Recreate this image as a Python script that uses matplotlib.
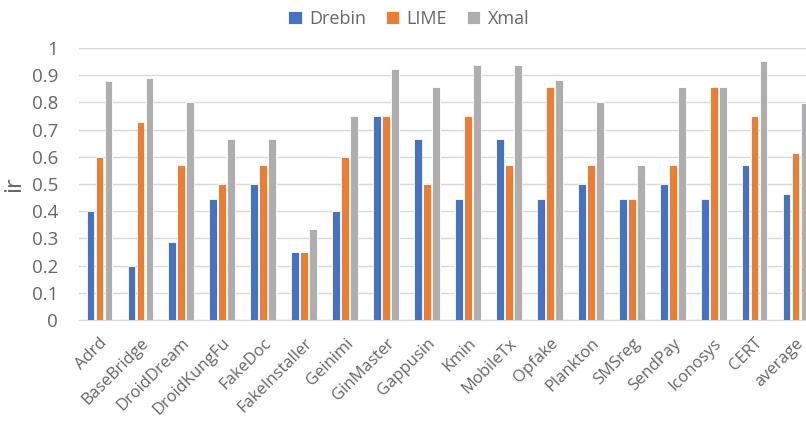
import matplotlib
matplotlib.use("Agg")
import matplotlib.pyplot as plt
import numpy as np

categories = ["Adrd", "BaseBridge", "DroidDream", "DroidKungFu", "FakeDoc", "FakeInstaller",
              "Geinimi", "GinMaster", "Gappusin", "Kmin", "MobileTx", "Opfake", "Plankton",
              "SMSreg", "SendPay", "Iconosys", "CERT", "average"]
drebin = [0.4, 0.2, 0.286, 0.444, 0.5, 0.25, 0.4, 0.75, 0.667, 0.444, 0.667, 0.444, 0.5,
          0.444, 0.5, 0.444, 0.571, 0.465]
lime = [0.6, 0.727, 0.571, 0.5, 0.571, 0.25, 0.6, 0.75, 0.5, 0.75, 0.571, 0.857, 0.571,
        0.444, 0.571, 0.857, 0.75, 0.614]
xmal = [0.88, 0.889, 0.8, 0.667, 0.667, 0.333, 0.75, 0.923, 0.857, 0.938, 0.938, 0.882, 0.8,
        0.571, 0.857, 0.857, 0.952, 0.798]
series_names = ["Drebin", "LIME", "Xmal"]
colors = ["#4472C4", "#ED7D31", "#AEAEB0"]
yticks = [0, 0.1, 0.2, 0.3, 0.4, 0.5, 0.6, 0.7, 0.8, 0.9, 1]

plt.rcParams['font.family'] = ['Open Sans', 'DejaVu Sans']
text_color = "#666666"

fig = plt.figure(figsize=(8.06, 4.28), dpi=100)
ax = fig.add_axes([79/806, 1 - 320/428, (816-79)/806, (320-48)/428])

x = np.arange(len(categories))
w = 0.19
step = 0.22
for i, (vals, name, c) in enumerate(zip([drebin, lime, xmal], series_names, colors)):
    ax.bar(x + (i - 1) * step, vals, width=w, color=c, label=name,
           edgecolor="white", linewidth=0.6, zorder=3)

ax.set_xlim(-0.5, len(categories) - 0.5)
ax.set_ylim(0, 1)
ax.set_yticks(yticks)
ax.set_yticklabels([f"{t:g}" for t in yticks], fontsize=13.5, color=text_color)
ax.set_xticks(x)
ax.set_xticklabels(categories, rotation=45, ha="right", rotation_mode="anchor",
                   fontsize=12, color=text_color)
ax.tick_params(axis="y", length=0, pad=15)
ax.tick_params(axis="x", length=0, pad=11)
ax.grid(axis="y", color="#D9D9D9", linewidth=1, zorder=0)
for s in ["top", "right", "left"]:
    ax.spines[s].set_visible(False)
ax.spines["bottom"].set_color("#D9D9D9")
ax.spines["bottom"].set_zorder(1)
ax.set_ylabel("ir", fontsize=17, color=text_color, labelpad=4)

fig.legend(loc="upper center", bbox_to_anchor=(0.507, 1.015), ncol=3, frameon=False,
           fontsize=13, handlelength=0.75, handleheight=0.75, handletextpad=0.4,
           columnspacing=1.1, labelcolor=text_color)

fig.savefig("out.png", dpi=100)
